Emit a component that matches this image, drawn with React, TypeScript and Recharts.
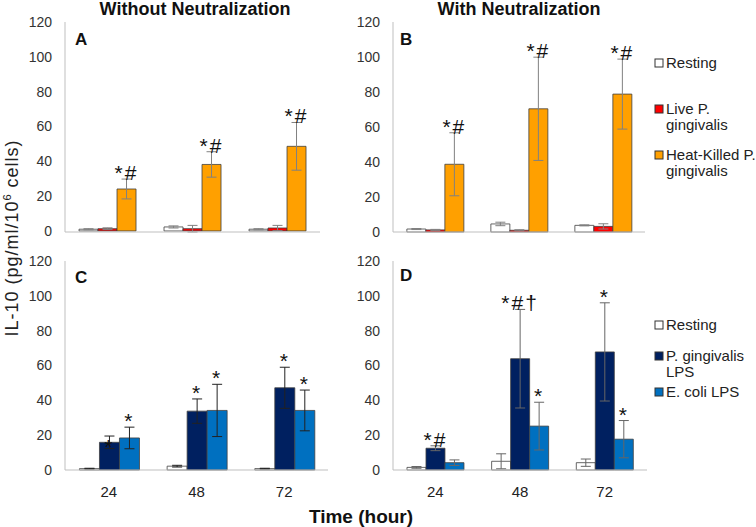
import { BarChart, Bar, XAxis, YAxis, ErrorBar, LabelList } from "recharts"

const times = ["24", "48", "72"]
const yTicks = [0, 20, 40, 60, 80, 100, 120]

// A - without neutralization, whole bacteria
const aResting = [1.0, 2.3, 1.0]
const aRestingErr = [0.3, 0.6, 0.3]
const aLive = [1.3, 1.3, 1.7]
const aLiveErr = [0.5, 1.9, 1.5]
const aHeat = [24.1, 38.2, 48.6]
const aHeatErr = [5.7, 7.3, 13.7]
const aHeatNotes = ["*#", "*#", "*#"]

// B - with neutralization, whole bacteria
const bResting = [1.7, 4.6, 3.8]
const bRestingErr = [0.3, 1.0, 0.3]
const bLive = [1.2, 1.0, 3.2]
const bLiveErr = [0.3, 0.3, 1.5]
const bHeat = [38.7, 70.4, 78.8]
const bHeatErr = [18.0, 29.5, 20.0]
const bHeatNotes = ["*#", "*#", "*#"]

// C - without neutralization, LPS
const cResting = [0.8, 2.2, 0.8]
const cRestingErr = [0.2, 0.5, 0.2]
const cPg = [15.9, 33.8, 47.2]
const cPgErr = [3.6, 7.0, 11.8]
const cPgNotes = ["*", "*", "*"]
const cEc = [18.4, 34.2, 34.2]
const cEcErr = [6.2, 15.0, 11.7]
const cEcNotes = ["*", "*", "*"]

// D - with neutralization, LPS
const dResting = [1.5, 5.0, 4.2]
const dRestingErr = [0.5, 4.3, 2.1]
const dPg = [12.5, 63.9, 67.8]
const dPgErr = [1.4, 28.3, 28.2]
const dPgNotes = ["*#", "*#†", "*"]
const dEc = [4.2, 25.2, 17.7]
const dEcErr = [1.6, 13.7, 10.7]
const dEcNotes = ["", "*", "*"]

const FONT = "'Liberation Sans', Arial, sans-serif"
const BOX = "#bfbfbf"
const WHITE = "#ffffff"
const RED = "#ff0000"
const ORANGE = "#ffa000"
const NAVY = "#002060"
const BLUE = "#0070c0"

type Series = {
  key: string
  values: number[]
  errors: number[]
  fill: string
  notes?: string[]
  atBar?: boolean[]
}

const noteLabel = (s: Series) => (props: any) => {
  const { x, y, width, height, index } = props
  const note = s.notes ? s.notes[index] : ""
  if (!note) return null
  const v = s.values[index]
  const perUnit = v > 0 ? Number(height) / v : 0
  const cx = Number(x) + Number(width) / 2
  const errTop = Number(y) - s.errors[index] * perUnit
  const ty = s.atBar && s.atBar[index] ? Number(y) + 12 : errTop + 1
  return (
    <text x={cx} y={ty} textAnchor="middle" fontSize={21} fill="#111" fontFamily={FONT} letterSpacing={2}>
      {note}
    </text>
  )
}

type PanelProps = {
  series: Series[]
  left: number
  top: number
  width: number
  height: number
  mt: number
  yWidth: number
  showX: boolean
  errColor: string
}

const Panel = ({ series, left, top, width, height, mt, yWidth, showX, errColor }: PanelProps) => {
  const data = times.map((t, i) => {
    const row: any = { time: t }
    series.forEach((s) => {
      row[s.key] = s.values[i]
      row[s.key + "Err"] = s.errors[i]
    })
    return row
  })
  return (
    <div style={{ position: "absolute", left, top }}>
      <BarChart
        width={width}
        height={height}
        data={data}
        margin={{ top: mt, right: 10, bottom: 0, left: 0 }}
        barCategoryGap="16.5%"
        barGap={0}
      >
        <XAxis
          dataKey="time"
          axisLine={{ stroke: BOX }}
          tickLine={false}
          tickSize={0}
          tickMargin={16}
          height={showX ? 57 : 8}
          tick={showX ? { fill: "#222", fontSize: 15, fontFamily: FONT } : false}
        />
        <XAxis
          xAxisId="top"
          orientation="top"
          dataKey="time"
          axisLine={{ stroke: BOX }}
          tickLine={false}
          tick={false}
          height={0}
        />
        <YAxis
          domain={[0, 120]}
          ticks={yTicks}
          interval={0}
          width={yWidth}
          axisLine={{ stroke: BOX }}
          tickLine={false}
          tickSize={0}
          tickMargin={13}
          tick={{ fill: "#333", fontSize: 14, fontFamily: FONT }}
        />
        <YAxis
          yAxisId="right"
          orientation="right"
          domain={[0, 120]}
          width={0}
          axisLine={{ stroke: BOX }}
          tickLine={false}
          tick={false}
        />
        {series.map((s) => (
          <Bar key={s.key} dataKey={s.key} fill={s.fill} stroke="#404040" strokeWidth={0.8} isAnimationActive={false}>
            <ErrorBar dataKey={s.key + "Err"} width={5} stroke={errColor} strokeWidth={1} direction="y" />
            {s.notes && <LabelList dataKey={s.key} content={noteLabel(s)} />}
          </Bar>
        ))}
      </BarChart>
    </div>
  )
}

const LegendRow = ({ x, y, fill, lines }: { x: number; y: number; fill: string; lines: string[] }) => (
  <g>
    <rect x={x} y={y - 4} width={8} height={8} fill={fill} stroke="#333" strokeWidth={1} />
    {lines.map((l, i) => (
      <text key={i} x={x + 11} y={y + 5 + i * 16} fontSize={15} fill="#222" fontFamily={FONT}>
        {l}
      </text>
    ))}
  </g>
)

export default function App() {
  return (
    <div style={{ position: "absolute", left: 0, top: 0, width: 756, height: 527, background: "#fff" }}>
      <Panel
        left={0}
        top={0}
        width={330}
        height={240}
        mt={22}
        yWidth={65}
        showX={false}
        errColor="#808080"
        series={[
          { key: "rest", values: aResting, errors: aRestingErr, fill: WHITE },
          { key: "live", values: aLive, errors: aLiveErr, fill: RED },
          { key: "heat", values: aHeat, errors: aHeatErr, fill: ORANGE, notes: aHeatNotes },
        ]}
      />
      <Panel
        left={330}
        top={0}
        width={325}
        height={240}
        mt={22}
        yWidth={63}
        showX={false}
        errColor="#808080"
        series={[
          { key: "rest", values: bResting, errors: bRestingErr, fill: WHITE },
          { key: "live", values: bLive, errors: bLiveErr, fill: RED },
          { key: "heat", values: bHeat, errors: bHeatErr, fill: ORANGE, notes: bHeatNotes },
        ]}
      />
      <Panel
        left={0}
        top={240}
        width={338}
        height={287}
        mt={21}
        yWidth={65}
        showX={true}
        errColor="#222"
        series={[
          { key: "rest", values: cResting, errors: cRestingErr, fill: WHITE },
          { key: "pg", values: cPg, errors: cPgErr, fill: NAVY, notes: cPgNotes, atBar: [true, false, false] },
          { key: "ec", values: cEc, errors: cEcErr, fill: BLUE, notes: cEcNotes },
        ]}
      />
      <Panel
        left={330}
        top={240}
        width={327}
        height={287}
        mt={21}
        yWidth={63}
        showX={true}
        errColor="#666"
        series={[
          { key: "rest", values: dResting, errors: dRestingErr, fill: WHITE },
          { key: "pg", values: dPg, errors: dPgErr, fill: NAVY, notes: dPgNotes },
          { key: "ec", values: dEc, errors: dEcErr, fill: BLUE, notes: dEcNotes },
        ]}
      />
      <svg width={756} height={527} style={{ position: "absolute", left: 0, top: 0, pointerEvents: "none" }}>
        <text x={195} y={15} textAnchor="middle" fontSize={18} fontWeight="bold" fill="#111" fontFamily={FONT}>
          Without Neutralization
        </text>
        <text x={519} y={15} textAnchor="middle" fontSize={18} fontWeight="bold" fill="#111" fontFamily={FONT}>
          With Neutralization
        </text>
        <text x={75} y={45} fontSize={17} fontWeight="bold" fill="#111" fontFamily={FONT}>A</text>
        <text x={400} y={45} fontSize={17} fontWeight="bold" fill="#111" fontFamily={FONT}>B</text>
        <text x={75} y={283} fontSize={17} fontWeight="bold" fill="#111" fontFamily={FONT}>C</text>
        <text x={400} y={281} fontSize={17} fontWeight="bold" fill="#111" fontFamily={FONT}>D</text>
        <text x={361} y={523} textAnchor="middle" fontSize={19} fontWeight="bold" fill="#111" fontFamily={FONT}>
          Time (hour)
        </text>
        <text
          x={18}
          y={238}
          transform="rotate(-90, 18, 238)"
          textAnchor="middle"
          fontSize={18}
          letterSpacing={1}
          fill="#222"
          fontFamily={FONT}
        >
          IL-10 (pg/ml/10<tspan fontSize={11} dy={-7}>6</tspan>
          <tspan dy={7}> cells)</tspan>
        </text>
        <LegendRow x={655} y={63} fill={WHITE} lines={["Resting"]} />
        <LegendRow x={655} y={109} fill={RED} lines={["Live P.", "gingivalis"]} />
        <LegendRow x={655} y={155} fill={ORANGE} lines={["Heat-Killed P.", "gingivalis"]} />
        <LegendRow x={655} y={325} fill={WHITE} lines={["Resting"]} />
        <LegendRow x={655} y={356} fill={NAVY} lines={["P. gingivalis", "LPS"]} />
        <LegendRow x={655} y={392} fill={BLUE} lines={["E. coli LPS"]} />
      </svg>
    </div>
  )
}
